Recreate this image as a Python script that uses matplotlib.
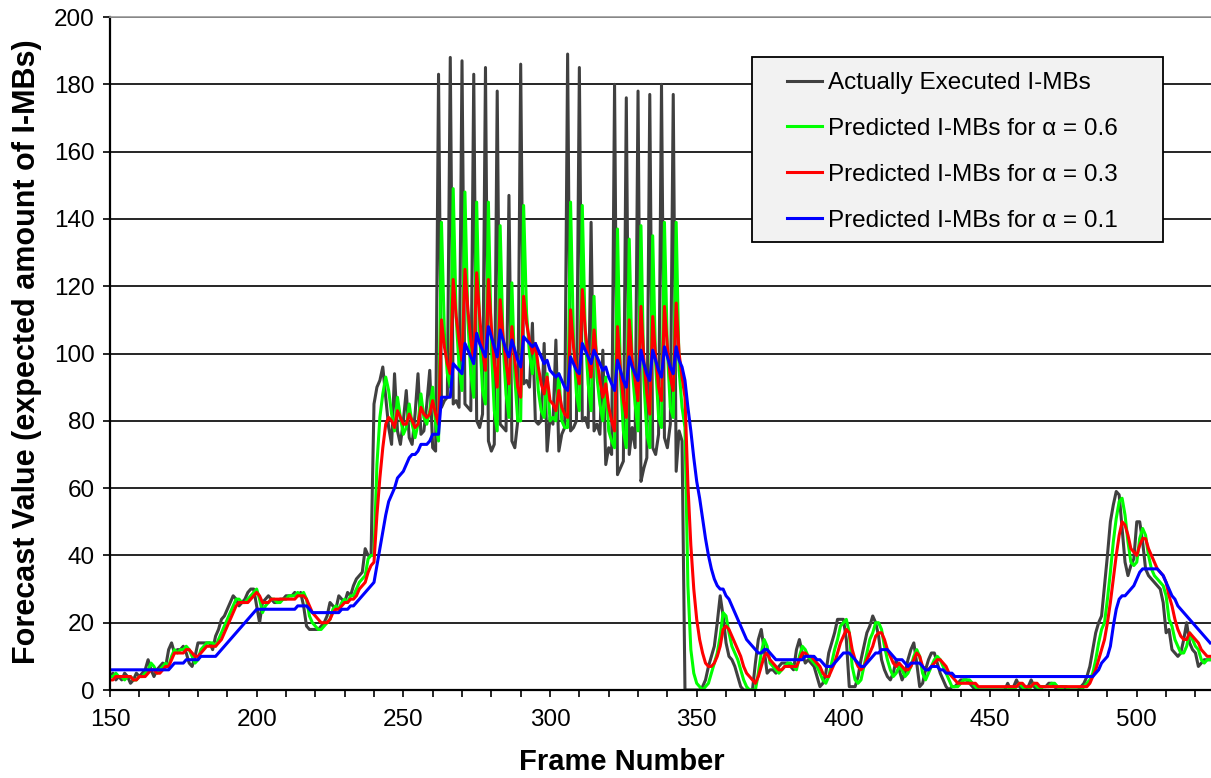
import matplotlib
matplotlib.use("Agg")
import matplotlib.pyplot as plt
from matplotlib.ticker import MultipleLocator, FuncFormatter
from matplotlib.patches import Rectangle

plt.rcParams['font.family'] = ['Liberation Sans', 'DejaVu Sans']

first_frame = 150

# I-MBs per frame, frames 150..525
actual = [
    4, 5, 3, 4, 3, 5, 4, 2, 3, 5,
    4, 5, 6, 9, 6, 4, 6, 7, 8, 7,
    12, 14, 11, 12, 12, 13, 11, 8, 7, 10,
    14, 14, 14, 14, 14, 12, 16, 18, 21, 22,
    24, 26, 28, 27, 25, 26, 27, 29, 30, 30,
    25, 20, 26, 27, 28, 27, 26, 26, 27, 27,
    28, 28, 28, 29, 28, 29, 25, 19, 18, 18,
    18, 18, 19, 20, 22, 26, 25, 24, 28, 27,
    26, 29, 28, 31, 33, 34, 35, 42, 40, 40,
    85, 90, 92, 96, 87, 78, 73, 94, 77, 73,
    80, 89, 75, 73, 82, 94, 76, 77, 85, 95,
    72, 71, 183, 84, 86, 87, 188, 85, 86, 84,
    187, 85, 84, 83, 183, 80, 78, 82, 185, 74,
    71, 73, 178, 79, 78, 77, 147, 74, 72, 80,
    186, 91, 92, 90, 109, 80, 79, 80, 103, 71,
    81, 79, 104, 71, 76, 78, 189, 77, 78, 80,
    185, 80, 81, 78, 139, 77, 79, 76, 101, 67,
    72, 70, 180, 64, 66, 68, 176, 70, 78, 72,
    178, 62, 66, 69, 177, 72, 70, 76, 180, 75,
    72, 79, 177, 65, 77, 74, 0, 0, 0, 0,
    0, 0, 1, 3, 7, 10, 13, 20, 28, 22,
    14, 10, 9, 7, 4, 1, 0, 0, 0, 0,
    8, 15, 18, 12, 5, 6, 6, 5, 7, 8,
    8, 8, 7, 6, 12, 15, 11, 8, 9, 8,
    7, 4, 1, 2, 5, 11, 14, 17, 21, 21,
    21, 15, 1, 1, 1, 4, 9, 13, 17, 19,
    22, 20, 16, 9, 6, 4, 3, 5, 9, 6,
    3, 5, 9, 12, 14, 8, 1, 2, 6, 9,
    11, 11, 8, 5, 3, 1, 0, 1, 1, 2,
    3, 3, 3, 2, 1, 0, 0, 0, 0, 0,
    0, 0, 0, 0, 0, 0, 2, 0, 1, 3,
    1, 0, 0, 1, 3, 1, 0, 1, 1, 1,
    2, 2, 1, 0, 1, 1, 0, 0, 0, 0,
    0, 1, 2, 4, 7, 12, 17, 20, 22, 31,
    40, 50, 55, 59, 58, 48, 38, 34, 37, 39,
    50, 50, 44, 36, 34, 33, 32, 31, 30, 26,
    17, 18, 12, 11, 10, 11, 15, 20, 14, 12,
    11, 7, 8, 9, 9, 9,
]

pred_06 = [
    4, 4, 5, 4, 4, 3, 4, 4, 3, 3,
    4, 4, 5, 6, 8, 7, 5, 6, 7, 8,
    7, 10, 12, 11, 12, 12, 13, 12, 10, 8,
    9, 12, 13, 14, 14, 14, 13, 15, 17, 19,
    21, 23, 25, 27, 27, 26, 26, 27, 28, 29,
    30, 27, 23, 25, 26, 27, 27, 26, 26, 27,
    27, 28, 28, 28, 29, 28, 29, 27, 22, 20,
    19, 18, 18, 19, 20, 21, 24, 25, 24, 26,
    27, 26, 28, 28, 30, 32, 33, 34, 39, 40,
    40, 67, 81, 88, 93, 89, 82, 77, 87, 81,
    76, 78, 85, 79, 75, 79, 88, 81, 79, 83,
    90, 79, 74, 139, 106, 94, 90, 149, 111, 96,
    89, 148, 110, 94, 87, 145, 106, 89, 85, 145,
    102, 83, 77, 138, 103, 88, 81, 121, 93, 80,
    80, 144, 112, 100, 94, 103, 89, 83, 81, 94,
    80, 81, 80, 94, 80, 78, 78, 145, 104, 88,
    83, 144, 106, 91, 83, 117, 93, 85, 80, 93,
    77, 74, 72, 137, 93, 77, 72, 134, 96, 85,
    77, 138, 92, 76, 72, 135, 97, 81, 78, 139,
    101, 84, 81, 139, 95, 84, 78, 31, 12, 5,
    2, 1, 0, 1, 2, 5, 8, 11, 16, 23,
    22, 17, 13, 11, 9, 6, 3, 1, 0, 0,
    0, 5, 11, 15, 13, 8, 7, 6, 5, 6,
    7, 8, 8, 7, 6, 10, 13, 12, 10, 9,
    8, 7, 5, 3, 2, 4, 8, 12, 15, 19,
    20, 21, 17, 7, 3, 2, 3, 7, 11, 15,
    17, 20, 20, 18, 13, 9, 6, 4, 5, 7,
    6, 4, 5, 7, 10, 12, 10, 5, 3, 5,
    7, 9, 10, 9, 7, 5, 3, 1, 1, 1,
    2, 3, 3, 3, 2, 1, 0, 0, 0, 0,
    0, 0, 0, 0, 0, 0, 0, 1, 0, 1,
    2, 1, 0, 0, 1, 2, 1, 0, 1, 1,
    1, 2, 2, 1, 0, 1, 1, 0, 0, 0,
    0, 0, 1, 2, 3, 5, 9, 14, 18, 20,
    27, 35, 44, 51, 56, 57, 52, 44, 38, 37,
    38, 45, 48, 46, 40, 36, 34, 33, 32, 31,
    28, 21, 19, 15, 13, 11, 11, 13, 17, 15,
    13, 12, 9, 8, 9, 9,
]

pred_03 = [
    3, 3, 4, 4, 4, 4, 4, 4, 3, 3,
    4, 4, 4, 5, 6, 6, 5, 5, 6, 7,
    7, 9, 11, 11, 11, 11, 12, 12, 11, 10,
    10, 11, 12, 13, 13, 13, 13, 14, 15, 17,
    19, 21, 23, 25, 26, 26, 26, 26, 27, 28,
    29, 28, 26, 26, 26, 27, 27, 27, 27, 27,
    27, 27, 27, 27, 28, 28, 28, 27, 25, 23,
    22, 21, 20, 20, 20, 21, 23, 24, 24, 25,
    26, 26, 27, 27, 28, 30, 31, 32, 35, 37,
    38, 52, 63, 72, 79, 81, 80, 78, 83, 81,
    79, 79, 82, 80, 78, 79, 84, 82, 81, 82,
    86, 82, 79, 110, 102, 97, 94, 122, 111, 104,
    98, 125, 113, 104, 98, 124, 111, 101, 95, 122,
    108, 97, 90, 116, 105, 97, 91, 108, 98, 90,
    87, 117, 109, 104, 100, 103, 96, 91, 88, 93,
    86, 85, 83, 89, 84, 82, 81, 113, 102, 95,
    91, 119, 107, 99, 93, 107, 98, 92, 87, 91,
    84, 80, 77, 108, 95, 86, 81, 110, 98, 92,
    86, 114, 98, 88, 82, 111, 99, 90, 86, 114,
    102, 93, 89, 115, 100, 93, 87, 61, 43, 30,
    21, 15, 11, 8, 7, 7, 8, 10, 13, 18,
    19, 18, 16, 14, 12, 10, 7, 5, 4, 3,
    2, 4, 7, 10, 11, 9, 8, 7, 6, 6,
    7, 7, 7, 7, 7, 9, 11, 11, 10, 10,
    9, 8, 7, 5, 4, 4, 6, 8, 11, 14,
    16, 18, 17, 12, 9, 7, 6, 7, 9, 11,
    13, 16, 17, 17, 15, 12, 10, 8, 7, 8,
    7, 6, 6, 7, 9, 11, 10, 7, 6, 6,
    7, 8, 9, 9, 8, 7, 5, 4, 3, 2,
    2, 2, 2, 2, 2, 2, 1, 1, 1, 1,
    1, 1, 1, 1, 1, 1, 1, 1, 1, 1,
    2, 2, 1, 1, 1, 2, 2, 1, 1, 1,
    1, 1, 1, 1, 1, 1, 1, 1, 1, 1,
    1, 1, 1, 1, 2, 4, 6, 9, 12, 15,
    20, 26, 33, 40, 46, 50, 49, 46, 42, 41,
    40, 43, 45, 45, 42, 40, 38, 36, 35, 34,
    32, 28, 25, 21, 18, 16, 15, 15, 17, 16,
    15, 14, 12, 11, 10, 10,
]

pred_01 = [
    6, 6, 6, 6, 6, 6, 6, 6, 6, 6,
    6, 6, 6, 6, 6, 6, 6, 6, 6, 6,
    6, 7, 8, 8, 8, 8, 9, 9, 9, 9,
    9, 10, 10, 10, 10, 10, 10, 11, 12, 13,
    14, 15, 16, 17, 18, 19, 20, 21, 22, 23,
    24, 24, 24, 24, 24, 24, 24, 24, 24, 24,
    24, 24, 24, 24, 25, 25, 25, 25, 24, 23,
    23, 23, 23, 23, 23, 23, 23, 23, 23, 24,
    24, 24, 25, 25, 26, 27, 28, 29, 30, 31,
    32, 37, 42, 47, 52, 56, 58, 60, 63, 64,
    65, 67, 69, 70, 70, 71, 73, 73, 73, 74,
    76, 76, 76, 87, 87, 87, 87, 97, 96, 95,
    94, 103, 101, 99, 97, 106, 103, 101, 99, 108,
    105, 102, 99, 107, 104, 101, 99, 104, 101, 98,
    96, 105, 104, 103, 102, 103, 101, 99, 97, 98,
    95, 94, 93, 94, 92, 90, 89, 99, 97, 95,
    94, 103, 101, 99, 97, 101, 99, 97, 95, 96,
    93, 91, 89, 98, 95, 92, 90, 99, 96, 94,
    92, 101, 97, 94, 92, 101, 98, 95, 93, 102,
    99, 96, 94, 102, 98, 96, 92, 84, 77, 69,
    62, 57, 51, 45, 40, 36, 33, 31, 30, 30,
    28, 27, 25, 23, 21, 19, 17, 15, 14, 13,
    12, 11, 11, 12, 12, 11, 10, 9, 9, 9,
    9, 9, 9, 9, 9, 9, 9, 10, 10, 10,
    10, 9, 9, 8, 7, 7, 7, 8, 9, 10,
    11, 11, 11, 10, 9, 8, 7, 7, 8, 9,
    10, 11, 11, 12, 12, 12, 11, 10, 9, 9,
    9, 8, 7, 8, 8, 8, 8, 7, 6, 6,
    7, 7, 7, 6, 6, 5, 5, 5, 4, 4,
    4, 4, 4, 4, 4, 4, 4, 4, 4, 4,
    4, 4, 4, 4, 4, 4, 4, 4, 4, 4,
    4, 4, 4, 4, 4, 4, 4, 4, 4, 4,
    4, 4, 4, 4, 4, 4, 4, 4, 4, 4,
    4, 4, 4, 4, 4, 4, 5, 6, 8, 9,
    10, 13, 19, 24, 27, 28, 28, 29, 30, 31,
    33, 35, 36, 36, 36, 36, 36, 36, 35, 34,
    32, 30, 28, 27, 25, 24, 23, 22, 21, 20,
    19, 18, 17, 16, 15, 14,
]

labels = ['Actually Executed I-MBs',
          'Predicted I-MBs for α = 0.6',
          'Predicted I-MBs for α = 0.3',
          'Predicted I-MBs for α = 0.1']
colors = ['#404040', '#00ff00', '#ff0000', '#0000ff']

frames = list(range(first_frame, first_frame + len(actual)))

fig = plt.figure(figsize=(12.11, 7.78), dpi=100)
ax = fig.add_axes([0.0908, 0.1131, 0.9092, 0.8650])

for s, lab, c in zip([actual, pred_06, pred_03, pred_01], labels, colors):
    ax.plot(frames, s, color=c, lw=2.2, label=lab)

ax.set_xlim(150, 525.3)
ax.set_ylim(0, 200)
ax.yaxis.set_major_locator(MultipleLocator(20))
ax.xaxis.set_major_locator(MultipleLocator(10))
ax.xaxis.set_major_formatter(FuncFormatter(lambda v, p: '%d' % v if v % 50 == 0 else ''))
ax.grid(axis='y', color='black', lw=1.2)
ax.set_axisbelow(True)

for side in ['left', 'bottom']:
    ax.spines[side].set_linewidth(1.6)
    ax.spines[side].set_color('black')
ax.spines['top'].set_color('#9a9a9a')
ax.spines['top'].set_linewidth(1.2)
ax.spines['right'].set_visible(False)

ax.tick_params(axis='both', direction='out', length=5, width=1.2, labelsize=17.5)
ax.tick_params(axis='x', pad=9)
ax.tick_params(axis='y', pad=6)

ax.set_xlabel('Frame Number', fontsize=21, fontweight='bold', va='center')
ax.xaxis.set_label_coords((622 - 110) / 1101, (690 - 762) / 673)
ax.set_ylabel('Forecast Value (expected amount of I-MBs)', fontsize=22, fontweight='bold', va='center')
ax.yaxis.set_label_coords((27 - 110) / 1101, 0.502)

# legend box
box = Rectangle((752 / 1211, 1 - 242 / 778), (1163 - 752) / 1211, (242 - 57) / 778,
                transform=fig.transFigure, facecolor='#f2f2f2', edgecolor='black',
                lw=1.3, zorder=4)
fig.patches.append(box)

handles, labs = ax.get_legend_handles_labels()
leg = fig.legend(handles, labs, loc='upper left', bbox_to_anchor=(787 / 1211, 1 - 72 / 778),
                 borderaxespad=0, borderpad=0, fontsize=17.5, frameon=False,
                 handlelength=1.44, handletextpad=0.25, labelspacing=0.98)
leg.set_zorder(5)
for h in leg.get_lines():
    h.set_linewidth(2.2)

fig.savefig('out.png', dpi=100)
